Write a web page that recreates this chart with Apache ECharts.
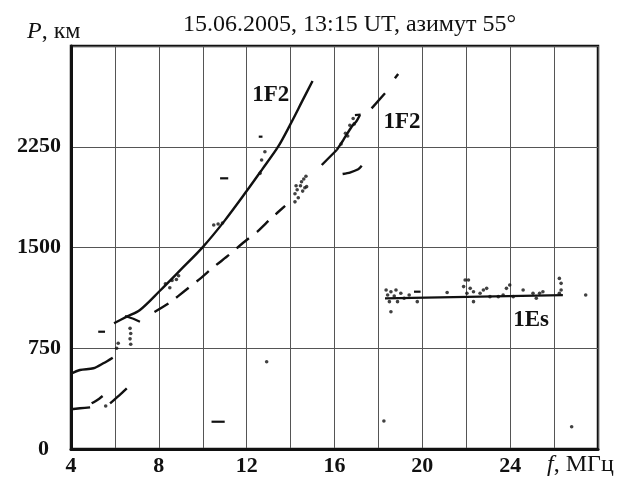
<!DOCTYPE html>
<html>
<head>
<meta charset="utf-8">
<script src="https://cdn.jsdelivr.net/npm/echarts@6/dist/echarts.min.js"></script>
<style>
  html, body { margin: 0; padding: 0; background: #fff; }
  #chart { width: 624px; height: 477px; }
</style>
</head>
<body>
<div id="chart"></div>
<script>
// Oblique sounding ionogram: group path P (km) against frequency f (MHz)

const xTicks = [4, 8, 12, 16, 20, 24];
const yTicks = [0, 750, 1500, 2250];

// 1F2 mode, upper (solid) trace
const f2Main = [
  [5.96, 936], [6.54, 985], [7.14, 1035], [8.05, 1178], [9.0, 1335],
  [9.98, 1499], [11.0, 1700], [12.0, 1920], [12.7, 2080], [13.44, 2252],
  [14.0, 2420], [14.5, 2580], [15.0, 2740]
];

// 1F2 mode, lower (dashed) trace
const f2Branch = [
  [7.8, 1020], [8.5, 1090], [9.2, 1180], [9.9, 1270], [10.5, 1355],
  [11.2, 1445], [11.8, 1530], [12.5, 1620], [13.1, 1715], [13.75, 1810]
];

// 1F2 upper trace above 15 MHz, drawn piece by piece
const f2UpperPieces = [
  [[15.42, 2114], [16.1, 2226]],
  [[16.1, 2226], [16.4, 2300], [16.78, 2399], [17.0, 2440], [17.16, 2486]],
  [[17.69, 2536], [18.3, 2648]],
  [[18.75, 2760], [18.9, 2792]],
  [[16.37, 2047], [16.7, 2058], [17.08, 2082], [17.24, 2108]]
];

// Low-frequency traces below 6.5 MHz
const lowTrace = [[4.0, 560], [4.41, 588], [5.02, 601], [5.47, 638], [5.9, 680]];
const bottomPieces = [
  [[4.0, 296], [4.41, 303], [4.87, 310]],
  [[4.94, 340], [5.2, 365], [5.44, 395]],
  [[5.78, 340], [6.2, 400], [6.54, 452]]
];

// 1Es mode
const esLine = [[18.3, 1122], [26.4, 1146]];
const esPoints = [
  [18.35, 1184], [18.57, 1171], [18.8, 1184], [18.42, 1146], [18.72, 1139],
  [18.5, 1097], [18.87, 1097], [18.57, 1022], [19.02, 1159], [19.17, 1122],
  [19.4, 1146], [19.77, 1097], [21.13, 1165], [21.95, 1258], [22.1, 1258],
  [21.88, 1209], [22.18, 1196], [22.03, 1159], [22.33, 1171], [22.63, 1159],
  [22.78, 1184], [22.93, 1196], [22.33, 1097], [23.08, 1134], [23.46, 1134],
  [23.83, 1196], [23.98, 1221], [23.68, 1146], [24.14, 1134], [24.59, 1184],
  [25.04, 1159], [25.34, 1159], [25.49, 1171], [25.19, 1122], [26.24, 1270],
  [26.32, 1233], [26.32, 1184], [26.24, 1159], [27.44, 1146]
];

// Isolated returns
const strayPoints = [
  [12.91, 650], [18.25, 208], [26.8, 166], [5.58, 320],
  [6.69, 898], [6.72, 860], [6.69, 820], [6.72, 780], [6.15, 787], [6.08, 750],
  [12.83, 2213], [12.68, 2151], [12.61, 2052],
  [8.3, 1230], [8.6, 1255], [8.9, 1290], [8.5, 1200], [8.8, 1262],
  [10.5, 1668], [10.7, 1675], [10.9, 1682],
  [14.2, 1900], [14.3, 1930], [14.45, 1960], [14.5, 1990], [14.6, 2010],
  [14.7, 2030], [14.35, 1870], [14.55, 1920], [14.25, 1960], [14.65, 1945],
  [14.2, 1840], [14.73, 1953],
  [16.5, 2350], [16.6, 2330], [16.9, 2420], [16.7, 2410], [16.3, 2270], [16.85, 2460]
];
const strayDashes = [
  [[5.24, 873], [5.55, 873]],
  [[10.4, 203], [11.0, 203]],
  [[10.79, 2015], [11.16, 2015]],
  [[12.55, 2325], [12.72, 2325]],
  [[16.93, 2486], [17.19, 2490]],
  [[19.62, 1171], [19.92, 1171]],
  [[6.46, 990], [6.84, 970], [7.14, 948]]
];

// Mode labels (name, frequency, path)
const modeNames = ['1F2', '1F2', '1Es'];
const modeLabelF = [13.1, 19.07, 24.95];
const modeLabelP = [2635, 2434, 960];

const SERIF = '"Liberation Serif", "DejaVu Serif", serif';
const INK = '#111';

function lineSeries(data, extra) {
  return Object.assign({
    type: 'line',
    data: data,
    symbol: 'none',
    silent: true,
    lineStyle: { color: INK, width: 2.4 }
  }, extra || {});
}

const series = [
  lineSeries(f2Main, { smooth: 0.3 }),
  lineSeries(f2Branch, { smooth: 0.2, lineStyle: { color: INK, width: 2.4, type: [16, 10] } }),
  lineSeries(lowTrace, { smooth: 0.3 }),
  lineSeries(esLine, { lineStyle: { color: INK, width: 2.2 } })
];
f2UpperPieces.forEach(p => series.push(lineSeries(p, { smooth: 0.2 })));
bottomPieces.forEach(p => series.push(lineSeries(p, { smooth: 0.2 })));
strayDashes.forEach(p => series.push(lineSeries(p, { lineStyle: { color: INK, width: 2.2 } })));
series.push({
  type: 'scatter',
  data: esPoints.concat(strayPoints),
  symbol: 'circle',
  symbolSize: 3.6,
  itemStyle: { color: INK },
  silent: true
});

const axisNameText = (t, left, top) => ({
  type: 'text', left: left, top: top,
  style: {
    text: t,
    fill: INK,
    font: '24px ' + SERIF,
    rich: { i: { fontStyle: 'italic', fontFamily: SERIF, fontSize: 24, fill: INK } }
  }
});

const chart = echarts.init(document.getElementById('chart'), null, { renderer: 'canvas' });
chart.setOption({
  animation: false,
  backgroundColor: '#fff',
  title: {
    text: '15.06.2005, 13:15 UT, азимут 55°',
    left: 178,
    top: 8,
    textStyle: { fontFamily: SERIF, fontWeight: 'normal', fontSize: 24, color: INK }
  },
  grid: {
    left: 71, right: 26, top: 46, bottom: 28,
    show: true, borderColor: INK, borderWidth: 2.5, backgroundColor: 'transparent'
  },
  xAxis: {
    type: 'value',
    min: 4, max: 28, interval: 2,
    axisLine: { show: true, lineStyle: { color: INK, width: 3 } },
    axisTick: { show: false },
    splitLine: { show: true, lineStyle: { color: '#555', width: 1 } },
    axisLabel: {
      margin: 6,
      fontFamily: SERIF, fontWeight: 'bold', fontSize: 22, color: INK,
      formatter: v => (xTicks.indexOf(v) >= 0 ? String(v) : '')
    }
  },
  yAxis: {
    type: 'value',
    min: 0, max: 3000, interval: 750,
    axisLine: { show: true, lineStyle: { color: INK, width: 3 } },
    axisTick: { show: false },
    splitLine: { show: true, lineStyle: { color: '#555', width: 1 } },
    axisLabel: {
      margin: 10,
      fontFamily: SERIF, fontWeight: 'bold', fontSize: 22, color: INK,
      formatter: v => {
        if (yTicks.indexOf(v) < 0) return '';
        return v === 0 ? '{z|0}' : String(v);
      },
      rich: {
        z: { fontFamily: SERIF, fontWeight: 'bold', fontSize: 22, color: INK, padding: [0, 12, 0, 0] }
      }
    }
  },
  graphic: [
    axisNameText('{i|P}, км', 27, 20),
    axisNameText('{i|f}, МГц', 547, 453)
  ],
  series: series
});

// Mode labels placed through the chart's own coordinate system
const labelGraphics = modeNames.map((name, i) => {
  const pt = chart.convertToPixel({ gridIndex: 0 }, [modeLabelF[i], modeLabelP[i]]);
  return {
    type: 'text',
    x: pt[0], y: pt[1],
    style: {
      text: name,
      fill: INK,
      font: 'bold 23px ' + SERIF,
      align: 'center',
      verticalAlign: 'middle'
    }
  };
});
chart.setOption({
  graphic: [
    axisNameText('{i|P}, км', 27, 20),
    axisNameText('{i|f}, МГц', 547, 453)
  ].concat(labelGraphics)
});
</script>
</body>
</html>
